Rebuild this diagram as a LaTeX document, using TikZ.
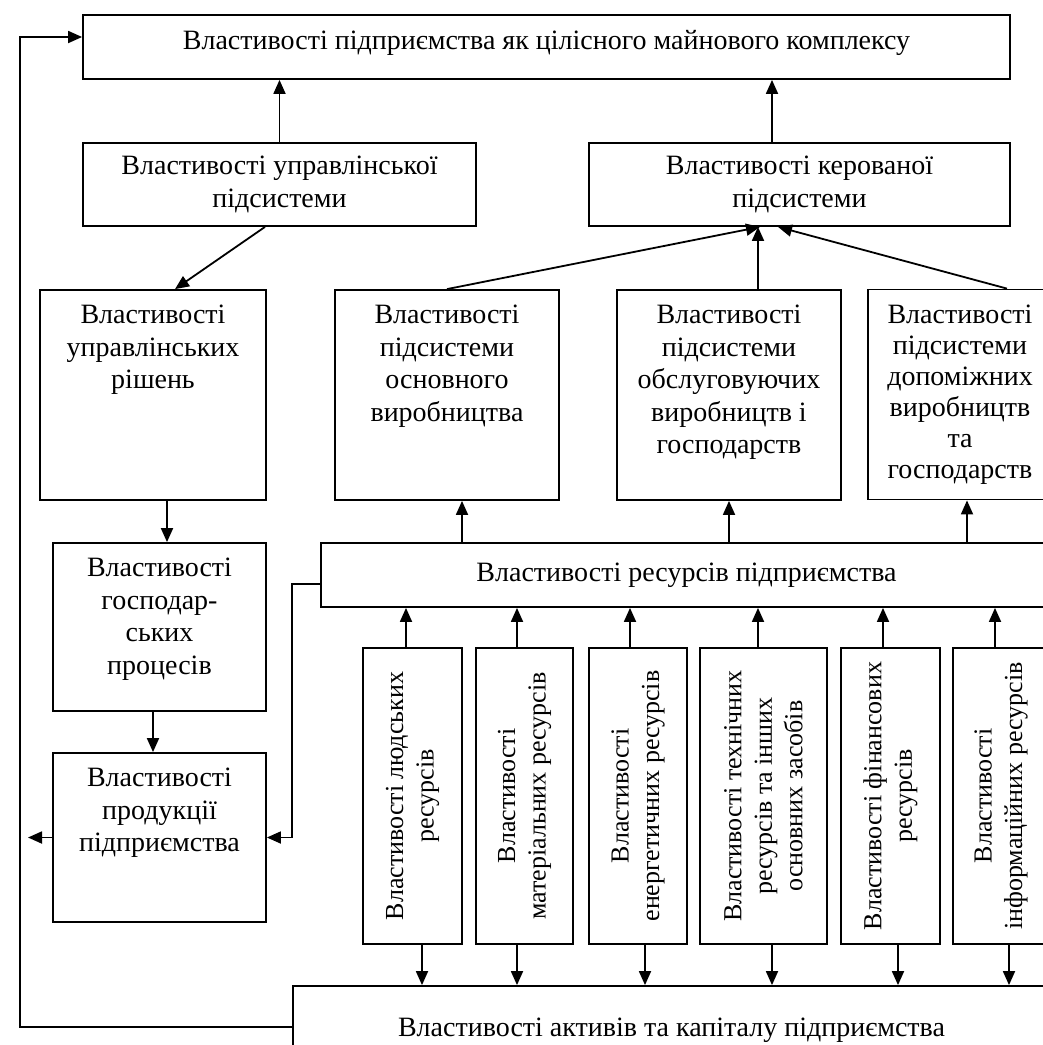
\documentclass[tikz,border=0pt]{standalone}
\usepackage{fontspec}
\setmainfont{Liberation Serif}
\usetikzlibrary{shapes,arrows.meta}
\tikzstyle{block} = [rectangle, draw, line width=1.8pt, text centered, align=center, inner sep=0pt, font=\fontsize{28}{32.5}\selectfont]
\tikzstyle{vblock} = [block, rotate=90, minimum width=296pt, font=\fontsize{26}{30.5}\selectfont]
\tikzstyle{line} = [draw, line width=1.8pt, -{Triangle[length=14pt,width=12pt]}]
\newcommand{\toptext}[3]{\parbox[c][#1pt][t]{#2pt}{\centering\vspace*{15pt}#3}}

\begin{document}
\begin{tikzpicture}[x=1pt,y=-1pt]
\useasboundingbox (0,0) rectangle (1043,1045);
\clip (0,0) rectangle (1043,1045);

\node [block, minimum width=927pt, minimum height=64pt] (top) at (546.5,47) {Властивості підприємства як цілісного майнового комплексу\rule[-14pt]{0pt}{1pt}};
\node [block, minimum width=393pt, minimum height=83pt] (ctrl) at (279.5,184.5) {Властивості управлінської\\підсистеми};
\node [block, minimum width=421pt, minimum height=83pt] (managed) at (799.5,184.5) {Властивості керованої\\підсистеми};
\path [line] (ctrl.north) -- (ctrl.north |- top.south);
\path [line] ([xshift=-27.5pt]managed.north) -- ([xshift=-27.5pt]managed.north |- top.south);

\node [block] (dec) at (153,395) {\toptext{210}{226}{Властивості\\управлінських\\рішень}};
\node [block] (mainp) at (447,395) {\toptext{210}{224}{Властивості\\підсистеми\\основного\\виробництва}};
\node [block] (serv) at (729,395) {\toptext{210}{224}{Властивості\\підсистеми\\обслуговуючих\\виробництв і\\господарств}};
\node [block] (aux) at (960,394.5) {\toptext{210}{184}{\fontsize{28}{31}\selectfont Властивості\\підсистеми\\допоміжних\\виробництв\\та\\господарств}};
\path [line] ([xshift=-14.5pt]ctrl.south) -- ([xshift=22pt]dec.north);
\path [line] (mainp.north) -- ([xshift=-39.5pt]managed.south);
\path [line] ([xshift=29pt]serv.north) -- ([xshift=29pt]serv.north |- managed.south);
\path [line] ([xshift=47pt]aux.north) -- ([xshift=-21.5pt]managed.south);

\node [block] (proc) at (159.5,627) {\toptext{168}{213}{Властивості\\господар-\\ських\\процесів}};
\node [block] (prod) at (159.5,837.5) {\toptext{169}{213}{Властивості\\продукції\\підприємства}};
\path [line] ([xshift=14pt]dec.south) -- ([xshift=14pt]dec.south |- proc.north);
\path [line] ([xshift=-6.5pt]proc.south) -- ([xshift=-6.5pt]proc.south |- prod.north);

\node [block, minimum width=731pt, minimum height=64pt] (res) at (686.5,575) {Властивості ресурсів підприємства};
\path [line] ([xshift=15pt]mainp.south |- res.north) -- ([xshift=15pt]mainp.south);
\path [line] (serv.south |- res.north) -- (serv.south);
\path [line] ([xshift=7pt]aux.south |- res.north) -- ([xshift=7pt]aux.south);

\node [vblock, minimum height=99pt] (rb1) at (412.5,796) {Властивості людських\\ресурсів};
\node [vblock, minimum height=97pt] (rb2) at (524.5,796) {Властивості\\матеріальних ресурсів};
\node [vblock, minimum height=98pt] (rb3) at (638,796) {Властивості\\енергетичних ресурсів};
\node [vblock, minimum height=127pt] (rb4) at (763.5,796) {Властивості технічних\\ресурсів та інших\\основних засобів};
\node [vblock, minimum height=99pt] (rb5) at (890.5,796) {Властивості фінансових\\ресурсів};
\node [vblock, minimum height=96pt] (rb6) at (1001,796) {Властивості\\інформаційних ресурсів};
\path [line] ([xshift=-6.5pt]rb1.east) -- ([xshift=-6.5pt]rb1.east |- res.south);
\path [line] ([xshift=-7.5pt]rb2.east) -- ([xshift=-7.5pt]rb2.east |- res.south);
\path [line] ([xshift=-8pt]rb3.east) -- ([xshift=-8pt]rb3.east |- res.south);
\path [line] ([xshift=-5.5pt]rb4.east) -- ([xshift=-5.5pt]rb4.east |- res.south);
\path [line] ([xshift=-7.5pt]rb5.east) -- ([xshift=-7.5pt]rb5.east |- res.south);
\path [line] ([xshift=-6pt]rb6.east) -- ([xshift=-6pt]rb6.east |- res.south);

\node [block, minimum width=757pt, minimum height=88pt] (assets) at (671.5,1030) {Властивості активів та капіталу підприємства};
\path [line] ([xshift=9.5pt]rb1.west) -- ([xshift=9.5pt]rb1.west |- assets.north);
\path [line] ([xshift=-7.5pt]rb2.west) -- ([xshift=-7.5pt]rb2.west |- assets.north);
\path [line] ([xshift=7pt]rb3.west) -- ([xshift=7pt]rb3.west |- assets.north);
\path [line] ([xshift=8.5pt]rb4.west) -- ([xshift=8.5pt]rb4.west |- assets.north);
\path [line] ([xshift=7.5pt]rb5.west) -- ([xshift=7.5pt]rb5.west |- assets.north);
\path [line] ([xshift=8pt]rb6.west) -- ([xshift=8pt]rb6.west |- assets.north);

% outputs and feedback
\coordinate (out) at (28,837.5);
\coordinate (fbk) at (20,37);
\path [line] ([yshift=-9pt]res.west) -- ++(-28,0) |- (prod.east);
\path [line] (prod.west) -- (out);
\path [line] ([yshift=3pt]assets.west) -| (fbk) -- ([yshift=10pt]top.west);
\end{tikzpicture}
\end{document}
